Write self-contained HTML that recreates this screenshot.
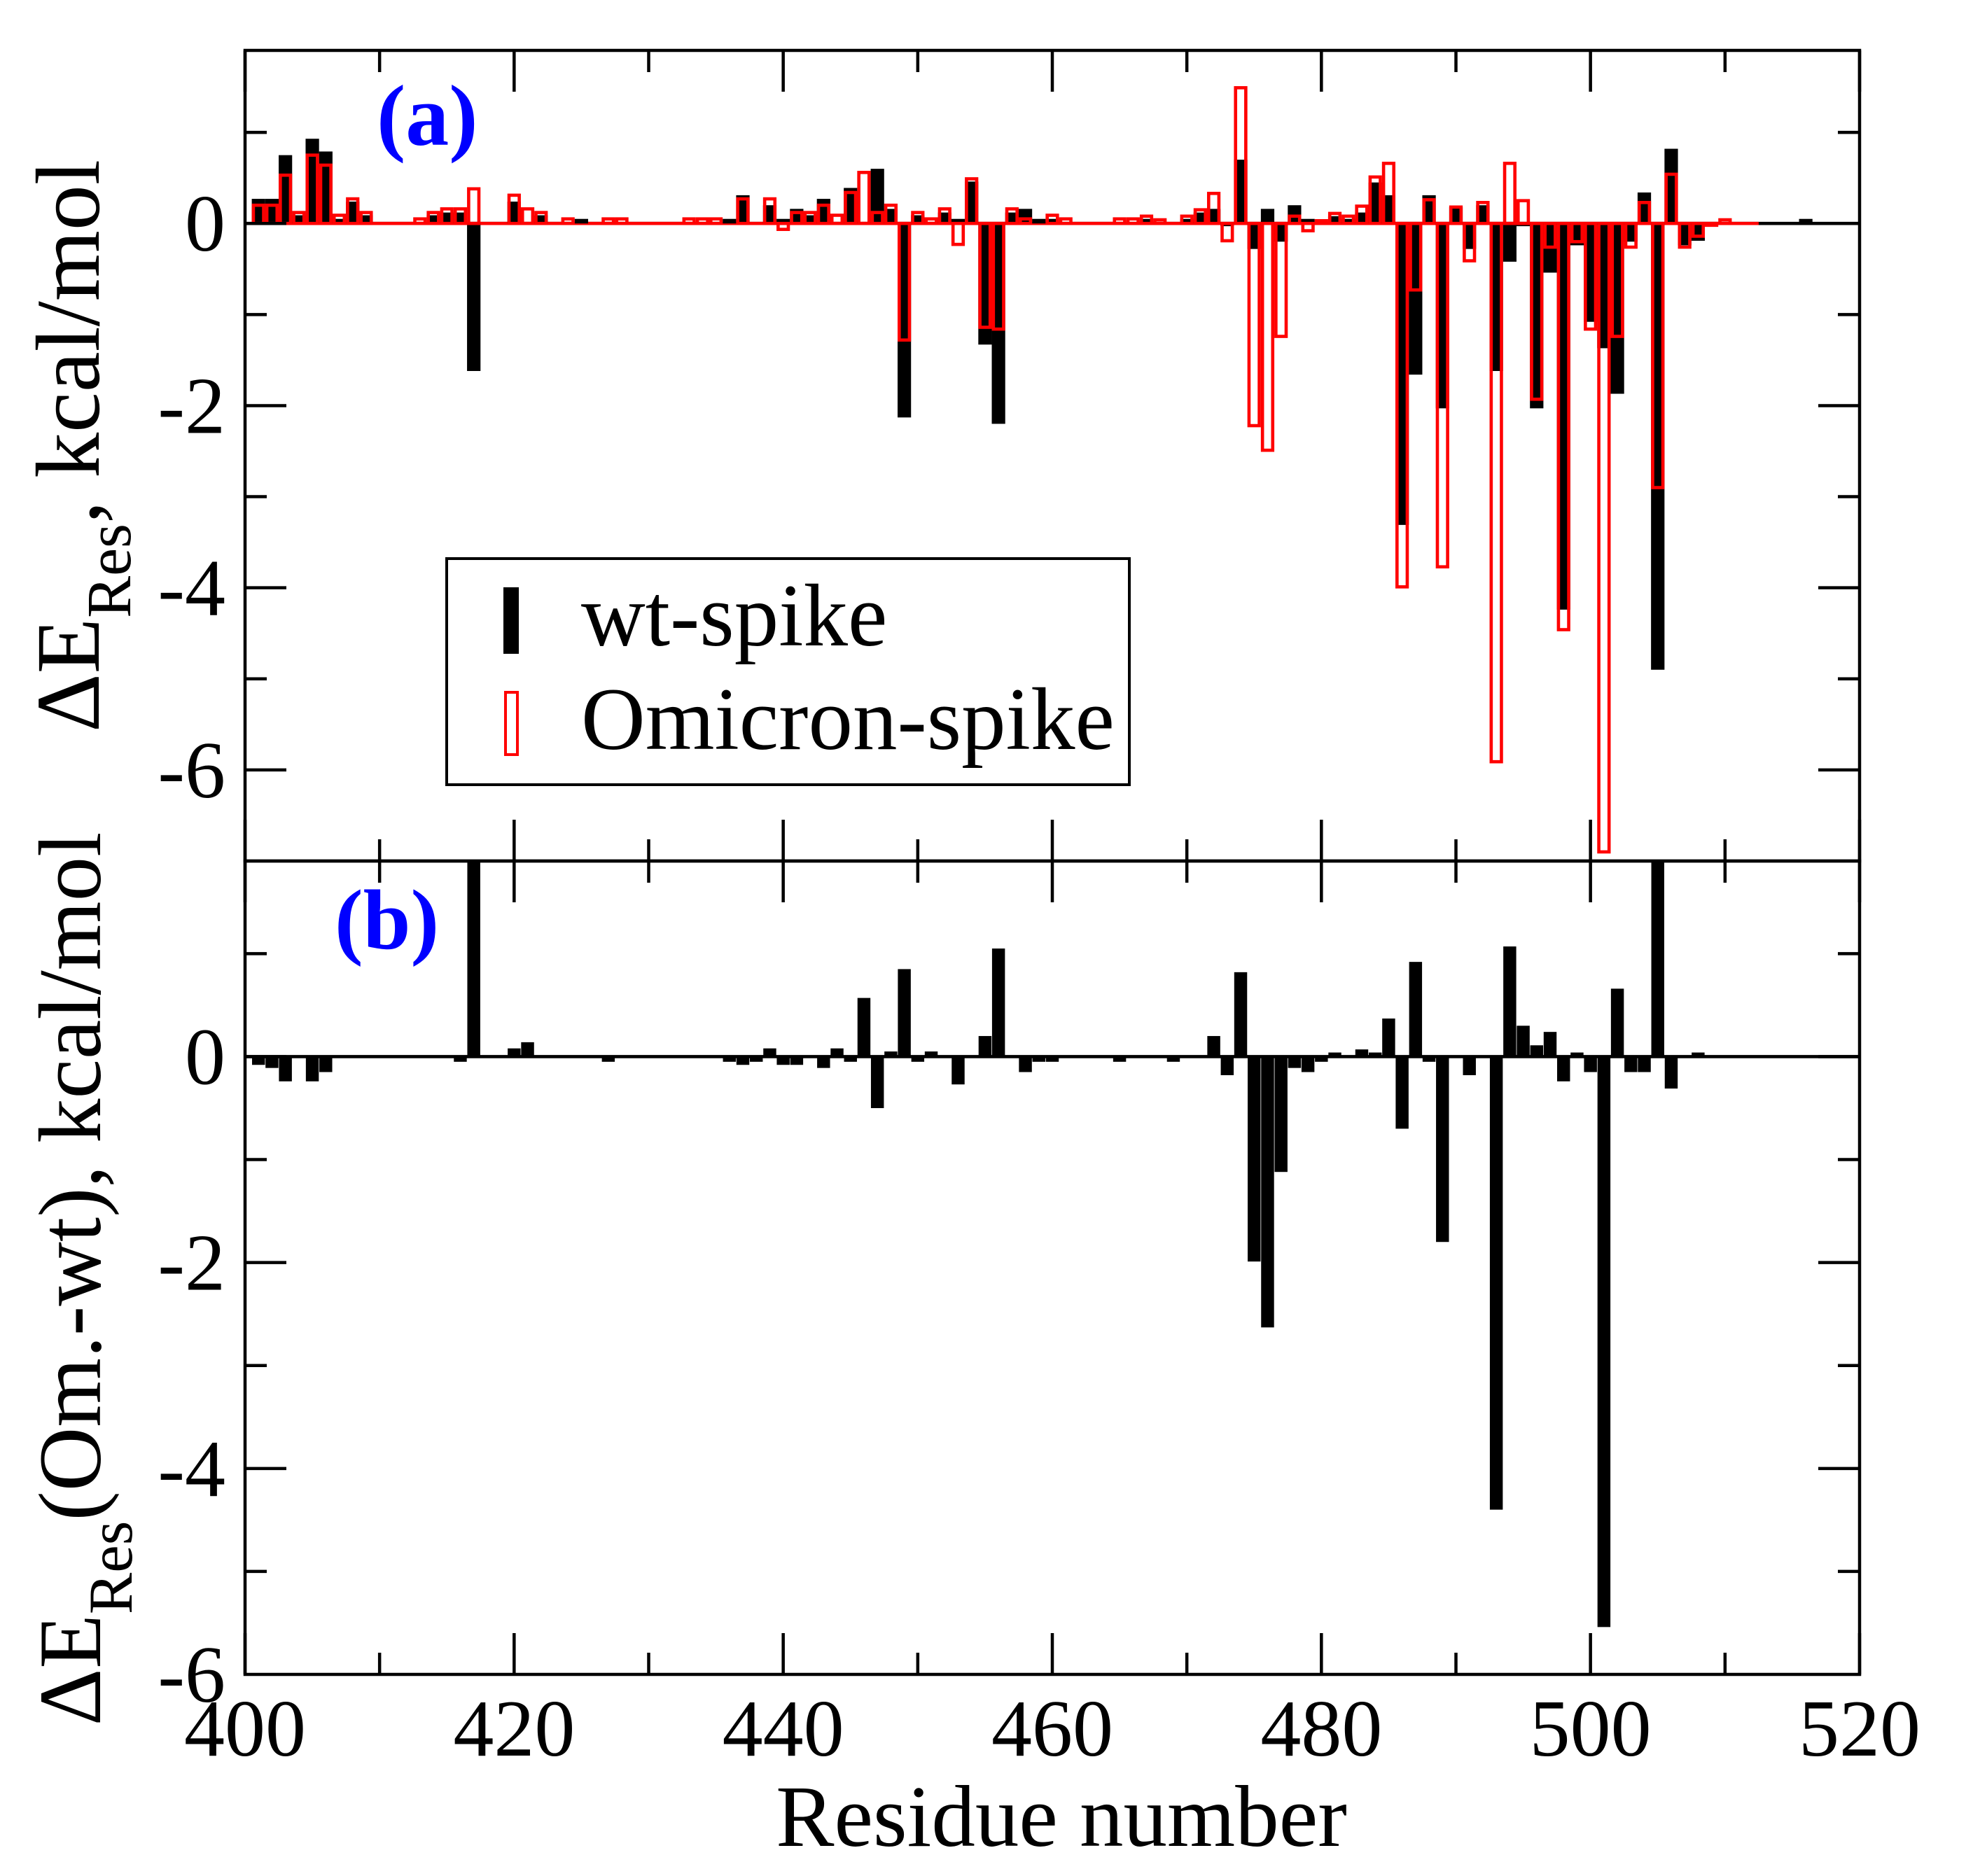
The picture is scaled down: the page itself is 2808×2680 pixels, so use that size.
<!DOCTYPE html>
<html>
<head>
<meta charset="utf-8">
<style>
html,body{margin:0;padding:0;background:#fff;}
svg{display:block;}
text{font-family:"Liberation Serif","DejaVu Serif",serif;}
</style>
</head>
<body>
<svg id="chart" width="2808" height="2680" viewBox="0 0 2808 2680" xmlns="http://www.w3.org/2000/svg">
  <rect x="0" y="0" width="2808" height="2680" fill="#fff"/>
  <g id="panelA"></g>
  <g id="panelB"></g>
  <g id="axes"></g>

  <text x="538" y="207" font-size="124" font-weight="bold" fill="#0000ff">(a)</text>
  <text x="478" y="1355" font-size="122" font-weight="bold" fill="#0000ff">(b)</text>

  <g>
    <rect x="638" y="798" width="975" height="323" fill="#fff" stroke="#000" stroke-width="4"/>
    <rect x="719" y="839" width="22" height="95" fill="#000"/>
    <text x="830" y="922" font-size="127" fill="#000">wt-spike</text>
    <rect x="722" y="989" width="17" height="89" fill="none" stroke="#ff0000" stroke-width="4"/>
    <text x="830" y="1070" font-size="127" fill="#000">Omicron-spike</text>
  </g>

  <text transform="translate(141,637) rotate(-90)" text-anchor="middle" font-size="130" fill="#000">ΔE<tspan font-size="90" dy="45">Res</tspan><tspan dy="-45">, kcal/mol</tspan></text>
  <text transform="translate(143,1827) rotate(-90)" text-anchor="middle" font-size="127" fill="#000">ΔE<tspan font-size="89" dy="45">Res</tspan><tspan dy="-45">(Om.-wt), kcal/mol</tspan></text>
  <text x="1516" y="2637" text-anchor="middle" font-size="125" fill="#000">Residue number</text>
</svg>
<script>
// ---- data ----
const residues = [];
for (let r = 401; r <= 516; r++) residues.push(r);
const wtValues = [
 0.27,0.27,0.75,0.09,0.93,0.79,0.05,0.24,0.09,0,
 0,0,0,0.09,0.12,0.12,-1.62,0,0,0.24,
 0,0.09,0,0,0.05,0,0,0,0,0,
 0,0,0,0,0,0.05,0.31,0,0.2,0.05,
 0.16,0.09,0.27,0,0.39,0,0.6,0.16,-2.13,0.09,
 0,0.12,0.05,0.46,-1.33,-2.2,0.12,0.16,0.05,0.05,
 0,0,0,0,0,0,0.05,0,0,0.05,
 0.12,0.16,-0.03,0.7,-0.28,0.16,-0.2,0.2,0.05,0,
 0.08,0.05,0.12,0.45,0.31,-3.31,-1.66,0.31,-2.03,0.18,
 -0.28,0.2,-1.62,-0.42,-0.03,-2.03,-0.54,-4.24,-0.24,-1.08,
 -1.37,-1.87,-0.2,0.34,-4.9,0.82,-0.24,-0.19,0,0,
 0,0,0,0,0,0.05
];
const omValues = [
 0.2,0.2,0.53,0.12,0.75,0.64,0.09,0.27,0.12,0,
 0,0,0.05,0.12,0.16,0.16,0.38,0,0,0.31,
 0.16,0.12,0,0.05,0,0,0.05,0.05,0,0,
 0,0,0.05,0.05,0.05,0,0.27,0,0.27,-0.065,
 0.12,0.12,0.2,0.09,0.34,0.56,0.12,0.2,-1.28,0.12,
 0.05,0.16,-0.23,0.49,-1.14,-1.16,0.16,0.05,0,0.09,
 0.05,0,0,0,0.05,0.05,0.08,0.04,0,0.08,
 0.15,0.33,-0.19,1.49,-2.22,-2.49,-1.24,0.08,-0.08,0.03,
 0.11,0.08,0.19,0.51,0.66,-3.99,-0.73,0.26,-3.77,0.18,
 -0.41,0.23,-5.91,0.66,0.25,-1.93,-0.26,-4.46,-0.2,-1.16,
 -6.9,-1.24,-0.26,0.23,-2.9,0.54,-0.26,-0.14,-0.02,0.04,
 0,0,0,0,0,0
];
const diffValues = [
 -0.08,-0.11,-0.24,0,-0.24,-0.15,0,0,0,0,
 0,0,0,0,0,-0.05,2.0,0,0,0.08,
 0.14,0,0,0,0,0,-0.05,0,0,0,
 0,0,0,0,0,-0.05,-0.08,-0.05,0.08,-0.08,
 -0.08,0,-0.11,0.08,-0.05,0.57,-0.5,0.05,0.85,-0.05,
 0.05,0,-0.27,0,0.2,1.05,0,-0.15,-0.05,-0.05,
 0,0,0,0,-0.05,0,0,0,-0.05,0,
 0,0.2,-0.18,0.82,-1.99,-2.63,-1.12,-0.11,-0.15,-0.05,
 0.04,0,0.07,0.04,0.37,-0.7,0.92,-0.05,-1.8,0,
 -0.18,0,-4.4,1.07,0.3,0.11,0.24,-0.24,0.04,-0.15,
 -5.54,0.66,-0.15,-0.15,2.0,-0.31,0,0.04,0,0,
 0,0,0,0,0,0
];
const xTickLabels = [400,420,440,460,480,500,520];
const yTickLabelsA = [0,-2,-4,-6];
const yTickLabelsB = [0,-2,-4,-6];

// ---- scales ----
const X0 = 350, X1 = 2656, XMIN = 400, XMAX = 520;
const AT = 72, AB = 1230, AMIN = -7, AMAX = 1.9;
const BT = 1230, BB = 2392, BMIN = -6, BMAX = 1.9;
function xs(v){ return X0 + (v - XMIN) * (X1 - X0) / (XMAX - XMIN); }
function ya(v){ return AT + (AMAX - v) * (AB - AT) / (AMAX - AMIN); }
function yb(v){ return BT + (BMAX - v) * (BB - BT) / (BMAX - BMIN); }
const NS = "http://www.w3.org/2000/svg";
function mk(tag, attrs, parent){
  const e = document.createElementNS(NS, tag);
  for (const k in attrs) e.setAttribute(k, attrs[k]);
  parent.appendChild(e);
  return e;
}
const gA = document.getElementById('panelA');
const gB = document.getElementById('panelB');
const gX = document.getElementById('axes');
const unit = (X1 - X0) / (XMAX - XMIN);

let bl = mk('line', {x1:X0, x2:X1, y1:ya(0), y2:ya(0), stroke:'#000', 'stroke-width':4.6}, gA);


let rl = mk('line', {x1:xs(402.6), x2:xs(512.5), y1:ya(0), y2:ya(0), stroke:'#ff0000', 'stroke-width':4.6}, gA);



residues.forEach((r, i) => {
  const v = Math.max(AMIN, Math.min(AMAX, wtValues[i]));
  if (v === 0) return;
  const y0 = ya(0), y1 = ya(v);
  const b = mk('rect', {x: xs(r - 0.5), width: unit, y: Math.min(y0, y1), height: Math.abs(y1 - y0), fill:'#000'}, gA);
  
  
});
const sw = 4.6;
residues.forEach((r, i) => {
  const v = Math.max(AMIN, Math.min(AMAX, omValues[i]));
  if (v === 0) return;
  const y0 = ya(0), y1 = ya(v);
  const b = mk('rect', {x: xs(r - 0.5) + sw/2, width: unit - sw, y: Math.min(y0, y1), height: Math.abs(y1 - y0), fill:'none', stroke:'#ff0000', 'stroke-width':sw}, gA);
  
  
});

let bl2 = mk('line', {x1:X0, x2:X1, y1:yb(0), y2:yb(0), stroke:'#000', 'stroke-width':4.6}, gB);


residues.forEach((r, i) => {
  const v = Math.max(BMIN, Math.min(BMAX, diffValues[i]));
  if (v === 0) return;
  const y0 = yb(0), y1 = yb(v);
  const b = mk('rect', {x: xs(r - 0.48), width: unit * 0.96, y: Math.min(y0, y1), height: Math.abs(y1 - y0), fill:'#000'}, gB);
  
  
});

[[AT, AB, 'panel-a-frame'], [BT, BB, 'panel-b-frame']].forEach(f => {
  const fr = mk('rect', {x:X0, y:f[0], width:X1 - X0, height:f[1] - f[0], fill:'none', stroke:'#000', 'stroke-width':4.5}, gX);
  
  
});

const MAJ = 59, MIN = 31;
for (let v = 400; v <= 520; v += 10) {
  const len = (v % 20 === 0) ? MAJ : MIN;
  const x = xs(v);
  [[AT, 1], [AB, -1], [BT, 1], [BB, -1]].forEach(t => {
    const l = mk('line', {x1:x, x2:x, y1:t[0], y2:t[0] + t[1] * len, stroke:'#000', 'stroke-width':4.5}, gX);
    
    
  });
}
xTickLabels.forEach(v => {
  const t = mk('text', {x: xs(v), y: 2508, 'text-anchor':'middle', 'font-size':116, fill:'#000'}, gX);
  t.textContent = String(v);
  
  
});

for (let v = -6; v <= 1; v++) {
  const len = (v % 2 === 0) ? MAJ : MIN;
  const y = ya(v);
  [[X0, 1], [X1, -1]].forEach(t => {
    const l = mk('line', {x1:t[0], x2:t[0] + t[1] * len, y1:y, y2:y, stroke:'#000', 'stroke-width':4.5}, gX);
    
    
  });
}
yTickLabelsA.forEach(v => {
  const t = mk('text', {x: 322, y: ya(v) + 39, 'text-anchor':'end', 'font-size':116, fill:'#000'}, gX);
  t.textContent = String(v);
  
  
});
for (let v = -5; v <= 1; v++) {
  const len = (v % 2 === 0) ? MAJ : MIN;
  const y = yb(v);
  [[X0, 1], [X1, -1]].forEach(t => {
    const l = mk('line', {x1:t[0], x2:t[0] + t[1] * len, y1:y, y2:y, stroke:'#000', 'stroke-width':4.5}, gX);
    
    
  });
}
yTickLabelsB.forEach(v => {
  const t = mk('text', {x: 322, y: yb(v) + 39, 'text-anchor':'end', 'font-size':116, fill:'#000'}, gX);
  t.textContent = String(v);
  
  
});
</script>
</body>
</html>
